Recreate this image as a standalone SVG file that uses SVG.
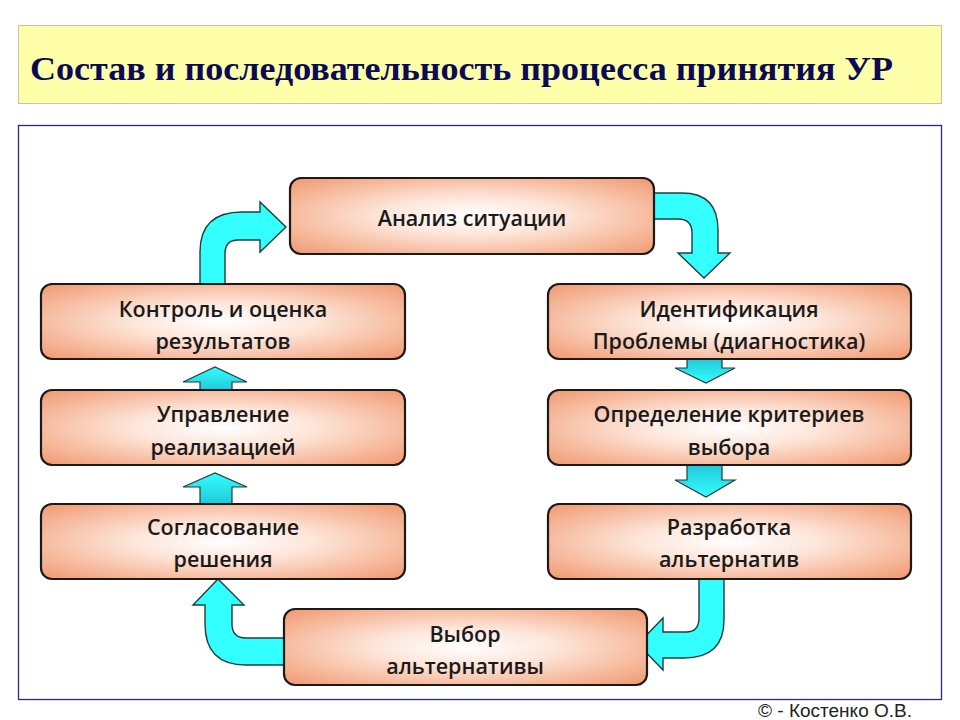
<svg xmlns="http://www.w3.org/2000/svg" width="960" height="720" viewBox="0 0 960 720">
<defs>
<radialGradient id="boxg" cx="50%" cy="50%" r="72%">
<stop offset="0" stop-color="#FFFFFF"/>
<stop offset="0.35" stop-color="#FDE5D8"/>
<stop offset="1" stop-color="#F0956B"/>
</radialGradient>
<linearGradient id="upg" x1="0" y1="0" x2="0" y2="1">
<stop offset="0" stop-color="#33FFFF"/>
<stop offset="1" stop-color="#22C8D8"/>
</linearGradient>
<linearGradient id="dng" x1="0" y1="0" x2="0" y2="1">
<stop offset="0" stop-color="#22C8D8"/>
<stop offset="1" stop-color="#33FFFF"/>
</linearGradient>
<style>
.box{fill:url(#boxg);stroke:#1A1A1A;stroke-width:2.2}
.t{font-family:"Open Sans","Noto Sans",sans-serif;font-weight:600;font-size:21.5px;fill:#1A1A1A;text-anchor:middle}
.arr{fill:#33FFFF;stroke:#1F3F3F;stroke-width:1.4;stroke-linejoin:miter}
.sm-up{fill:url(#upg);stroke:#1F3F3F;stroke-width:1.2}
.sm-dn{fill:url(#dng);stroke:#1F3F3F;stroke-width:1.2}
</style>
</defs>
<rect width="960" height="720" fill="#FFFFFF"/>
<g id="title">
<rect x="18.5" y="25.5" width="923" height="78" fill="#FFFFAA" stroke="#C4C4A8" stroke-width="1"/>
<text x="30" y="80" font-family="Liberation Serif,serif" font-weight="bold" font-size="33" fill="#0B0B55" textLength="863" lengthAdjust="spacingAndGlyphs">Состав и последовательность процесса принятия УР</text>
</g>
<rect id="frame" x="18.5" y="125.5" width="923" height="574" fill="none" stroke="#2B2B7A" stroke-width="1.3"/>
<g id="connectors">
<path class="arr" d="M200,284 L200,252 Q200,212 242,212 L260,212 L260,202 L286,227 L260,252 L260,240 L238,240 Q225,240 225,254 L225,284 Z"/>
<path class="arr" d="M654,193 L682,193 Q718,193 718,230 L718,253 L730,253 L704,278 L678,253 L692,253 L692,233 Q692,219 678,219 L654,219 Z"/>
<path class="arr" d="M699,579 L724,579 L724,620 Q724,658 684,658 L663,658 L663,670 L638,644 L663,618 L663,632 L686,632 Q699,632 699,618 Z"/>
<path class="arr" d="M284,638 L246,638 Q232,638 232,624 L232,605 L244,605 L218,579 L193,605 L205,605 L205,624 Q205,665 246,665 L284,665 Z"/>
<path class="sm-up" d="M200,390 L200,382 L183,382 L215,367 L247,382 L232,382 L232,390 Z"/>
<path class="sm-up" d="M200,504 L200,487 L183,487 L215,473 L247,487 L232,487 L232,504 Z"/>
<path class="sm-dn" d="M687,359 L687,368 L675,368 L706,383 L735,368 L722,368 L722,359 Z"/>
<path class="sm-dn" d="M687,465 L687,480 L675,480 L706,497 L735,480 L722,480 L722,465 Z"/>
</g>
<g id="n-analiz">
<rect class="box" x="290" y="178" width="364" height="76" rx="11"/>
<text class="t" x="472" y="226">Анализ ситуации</text>
</g>
<g id="n-kontrol">
<rect class="box" x="41" y="284" width="364" height="75" rx="11"/>
<text class="t" x="223" y="317">Контроль и оценка</text>
<text class="t" x="223" y="349">результатов</text>
</g>
<g id="n-upravlenie">
<rect class="box" x="41" y="390" width="364" height="75" rx="11"/>
<text class="t" x="223" y="422">Управление</text>
<text class="t" x="223" y="455">реализацией</text>
</g>
<g id="n-soglasovanie">
<rect class="box" x="41" y="504" width="364" height="75" rx="11"/>
<text class="t" x="223" y="535">Согласование</text>
<text class="t" x="223" y="567">решения</text>
</g>
<g id="n-identifikaciya">
<rect class="box" x="548" y="284" width="363" height="75" rx="11"/>
<text class="t" x="729" y="317">Идентификация</text>
<text class="t" x="729" y="349">Проблемы (диагностика)</text>
</g>
<g id="n-opredelenie">
<rect class="box" x="548" y="390" width="363" height="75" rx="11"/>
<text class="t" x="729" y="422">Определение критериев</text>
<text class="t" x="729" y="455">выбора</text>
</g>
<g id="n-razrabotka">
<rect class="box" x="548" y="504" width="363" height="75" rx="11"/>
<text class="t" x="729" y="535">Разработка</text>
<text class="t" x="729" y="567">альтернатив</text>
</g>
<g id="n-vybor">
<rect class="box" x="284" y="609" width="363" height="76" rx="11"/>
<text class="t" x="465" y="642">Выбор</text>
<text class="t" x="465" y="674">альтернативы</text>
</g>
<text x="912" y="717" font-family="Liberation Sans,Arial,sans-serif" font-size="19" fill="#222222" text-anchor="end">© - Костенко О.В.</text>
</svg>
